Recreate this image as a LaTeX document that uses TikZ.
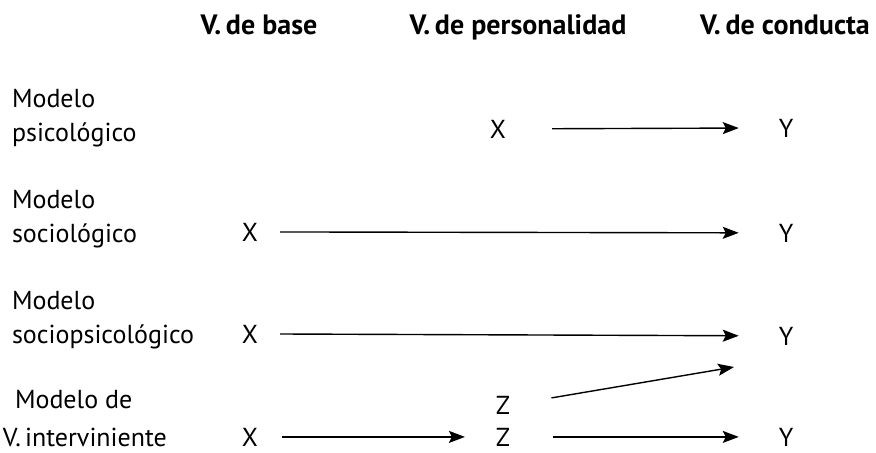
\documentclass[tikz,border=0pt]{standalone}
\usepackage{fontspec}
\setmainfont{PT Sans}
\usetikzlibrary{arrows.meta}

\begin{document}
\begin{tikzpicture}[x=0.5pt,y=-0.5pt,
    every node/.style={font=\fontsize{13}{17}\selectfont, inner sep=0pt, outer sep=0pt},
    head/.style={font=\bfseries\fontsize{14}{16}\selectfont, anchor=base},
    model/.style={align=left, anchor=base west},
    var/.style={anchor=base},
    flow/.style={-{Stealth[length=8pt, width=6pt, inset=1.5pt]}, line width=0.7pt}]
    \useasboundingbox (0,0) rectangle (876,452);
    % column heads
    \node[head] (hbase) at (259,34) {V.\,de base};
    \node[head] (hpers) at (518,34) {V.\,de personalidad};
    \node[head] (hcond) at (785,34) {V.\,de conducta};
    % models (base = last line)
    \node[model] (m1) at (12,141) {Modelo\\psicológico};
    \node[model] (m2) at (12,242) {Modelo\\sociológico};
    \node[model] (m3) at (12,343) {Modelo\\sociopsicológico};
    \node[model] (m4) at (3,446) {\hspace*{6pt}Modelo de\\[2pt]V.\,interviniente};
    % variables
    \node[var] (x1) at (498,138) {X};
    \node[var] (y1) at (786,137) {Y};
    \node[var] (x2) at (250,241) {X};
    \node[var] (y2) at (786,242) {Y};
    \node[var] (x3) at (250,343) {X};
    \node[var] (y3) at (786,345) {Y};
    \node[var] (z3) at (503,414) {Z};
    \coordinate (t3) at (734,367);
    \node[var] (x4) at (250,446) {X};
    \node[var] (z4) at (503,446) {Z};
    \node[var] (y4) at (786,446) {Y};
    % arrows
    \draw[flow, shorten <=23pt, shorten >=20pt] (x1.east) -- (y1.west);
    \draw[flow, shorten <=11pt, shorten >=20pt] (x2.east) -- (y2.west);
    \draw[flow, shorten <=11pt, shorten >=20pt] (x3.east) -- (y3.west);
    \draw[flow, shorten <=21pt] (z3.east) -- (t3);
    \draw[flow, shorten <=12pt, shorten >=15.5pt] (x4.east) -- (z4.west);
    \draw[flow, shorten <=21.5pt, shorten >=20pt] (z4.east) -- (y4.west);
\end{tikzpicture}
\end{document}
